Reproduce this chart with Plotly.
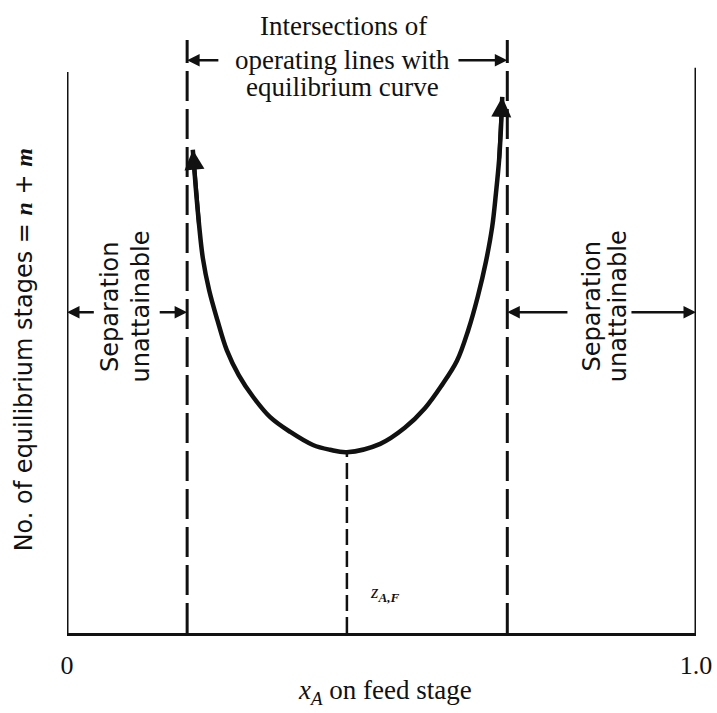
import plotly.graph_objects as go

# Stage requirement vs. feed-stage composition (schematic units, 0..1)
curve_x = [0.200, 0.205, 0.210, 0.216, 0.226, 0.239, 0.254, 0.273, 0.296,
           0.323, 0.355, 0.391, 0.418, 0.445, 0.498, 0.537, 0.569, 0.596,
           0.620, 0.638, 0.653, 0.666, 0.676, 0.682, 0.687, 0.690, 0.692]
curve_y = [0.815, 0.747, 0.688, 0.632, 0.578, 0.528, 0.477, 0.435, 0.398,
           0.364, 0.339, 0.317, 0.309, 0.305, 0.319, 0.346, 0.379, 0.418,
           0.459, 0.511, 0.567, 0.626, 0.685, 0.742, 0.798, 0.853, 0.904]

# Composition limits and feed composition
x_pinch_left = 0.191
x_pinch_right = 0.700
z_feed = 0.445
y_min_stages = 0.305

# Heights of the outer vertical rules and dashed limits
frame_left_top = 0.946
frame_right_top = 0.953
dash_top = 1.0

tick_vals = [0, 1]
tick_text = ["0", "1.0"]

SERIF = "Liberation Serif"
SANS = "DejaVu Sans"
INK = "#111111"

fig = go.Figure()

# Outer vertical rules
fig.add_trace(go.Scatter(x=[0, 0], y=[0, frame_left_top], mode="lines",
                         line=dict(color=INK, width=3), hoverinfo="skip"))
fig.add_trace(go.Scatter(x=[1, 1], y=[0, frame_right_top], mode="lines",
                         line=dict(color=INK, width=3), hoverinfo="skip"))

# Dashed boundaries of the attainable region
for xv in (x_pinch_left, x_pinch_right):
    fig.add_trace(go.Scatter(x=[xv, xv], y=[0, dash_top], mode="lines",
                             line=dict(color=INK, width=3, dash="30px,8px"),
                             hoverinfo="skip"))

# Dashed drop line at the feed composition
fig.add_trace(go.Scatter(x=[z_feed, z_feed], y=[0, y_min_stages], mode="lines",
                         line=dict(color=INK, width=2.5, dash="16px,6px"),
                         hoverinfo="skip"))

# U-shaped stage curve
fig.add_trace(go.Scatter(x=curve_x, y=curve_y, mode="lines",
                         line=dict(color=INK, width=4.5, shape="spline", smoothing=1.0),
                         hoverinfo="skip"))

annotations = []


def arrow(x_tip, y_tip, x_tail, y_tail, width=2.5, size=1.0):
    annotations.append(dict(
        x=x_tip, y=y_tip, ax=x_tail, ay=y_tail, xref="x", yref="y",
        axref="x", ayref="y", text="", showarrow=True, arrowhead=2,
        arrowsize=size, arrowwidth=width, arrowcolor=INK, standoff=0,
        startstandoff=0))


# Arrowheads at the curve ends
arrow(curve_x[0], curve_y[0], curve_x[2], curve_y[2], width=4, size=1.0)
arrow(curve_x[-1], curve_y[-1], curve_x[-3], curve_y[-3], width=4, size=1.0)

# Bracket arrows of the top label
y_top_arrow = 0.966
arrow(x_pinch_left, y_top_arrow, 0.243, y_top_arrow)
arrow(x_pinch_right, y_top_arrow, 0.620, y_top_arrow)

# "Separation unattainable" arrows
y_sep = 0.541
arrow(0.0, y_sep, 0.045, y_sep)
arrow(x_pinch_left, y_sep, 0.145, y_sep)
arrow(x_pinch_right, y_sep, 0.798, y_sep)
arrow(1.0, y_sep, 0.895, y_sep)


def label(text, x, y, size, family, angle=0):
    annotations.append(dict(
        text=text, x=x, y=y, xref="paper", yref="paper", showarrow=False,
        xanchor="center", yanchor="middle", textangle=angle,
        font=dict(family=family, size=size, color=INK)))


label("Intersections of", 0.440, 1.023, 27, SERIF)
label("operating lines with", 0.438, 0.966, 27, SERIF)
label("equilibrium curve", 0.438, 0.921, 27, SERIF)

label("Separation", 0.068, 0.551, 24, SANS, -90)
label("unattainable", 0.118, 0.551, 24, SANS, -90)
label("Separation", 0.835, 0.551, 24, SANS, -90)
label("unattainable", 0.876, 0.551, 24, SANS, -90)

label("No. of equilibrium stages = "
      "<span style=\"font-family:Liberation Serif\"><b><i>n</i></b></span> + "
      "<span style=\"font-family:Liberation Serif\"><b><i>m</i></b></span>",
      -0.068, 0.477, 24, SANS, -90)

label("<i>z</i><sub><b><i>A,F</i></b></sub>", 0.505, 0.068, 19, SERIF)

# x-axis title
label("<i>x</i><sub><i>A</i></sub> on feed stage", 0.506, -0.100, 27, SERIF)

fig.update_layout(
    width=717, height=713,
    margin=dict(l=67, r=21, t=40, b=80, autoexpand=False),
    paper_bgcolor="white", plot_bgcolor="white",
    showlegend=False,
    annotations=annotations,
    xaxis=dict(range=[0, 1], tickvals=tick_vals, ticktext=tick_text,
               showgrid=False, zeroline=False, showline=True, automargin=False,
               linecolor=INK, linewidth=3, ticks="outside", ticklen=7,
               tickcolor="rgba(0,0,0,0)",
               tickfont=dict(family=SERIF, size=26, color=INK)),
    yaxis=dict(range=[0, 1], showgrid=False, zeroline=False, showline=False,
               showticklabels=False, ticks="", automargin=False),
)

fig.write_html("out.html")
